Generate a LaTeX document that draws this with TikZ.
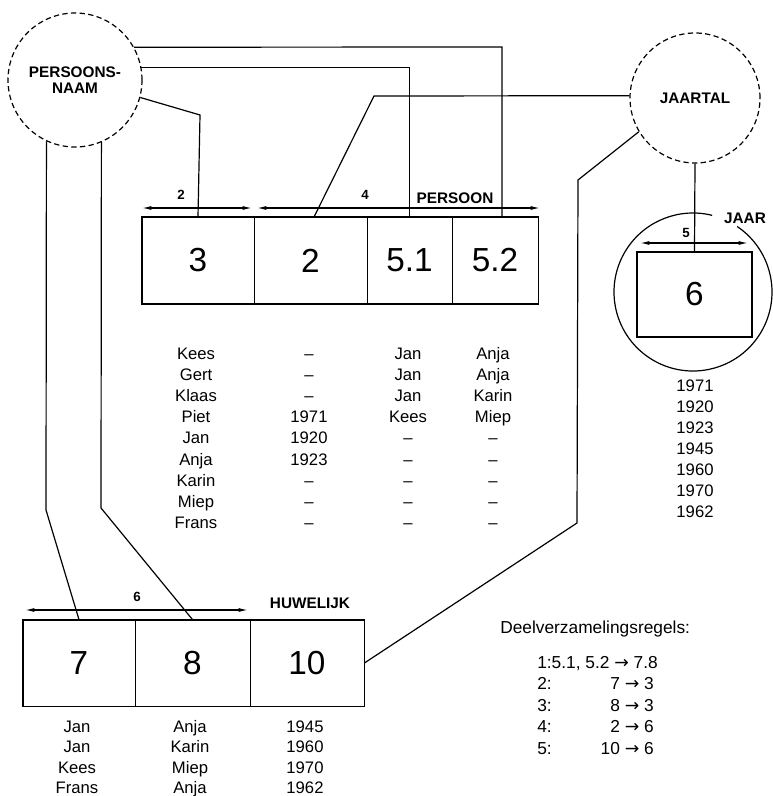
\documentclass[tikz,border=0pt]{standalone}
\usepackage{fontspec}
\setmainfont{Liberation Sans}
\newfontfamily\arrowfont{DejaVu Sans}
\newcommand{\rarr}{{\arrowfont →}}
\usetikzlibrary{arrows.meta}
\begin{document}
\begin{tikzpicture}[x=0.75pt,y=-0.75pt,
  conn/.style={line width=0.9pt},
  ent/.style={circle, draw, line width=0.9pt, dash pattern=on 4pt off 2.5pt, minimum size=#1, inner sep=0pt, font=\bfseries\fontsize{11.5}{13}\selectfont, align=center},
  cell/.style={draw, line width=0.6pt, minimum width=#1, minimum height=65pt, inner sep=0pt, font=\fontsize{25}{25}\selectfont},
  outer/.style={line width=1.2pt},
  dim/.style={line width=0.9pt, {Latex[length=7pt,width=3pt]}-{Latex[length=7pt,width=3pt]}},
  dlab/.style={font=\bfseries\fontsize{10}{12}\selectfont},
  lab/.style={font=\bfseries\fontsize{11.5}{13}\selectfont},
  val/.style={font=\fontsize{12.5}{14}\selectfont, inner sep=0pt, text height=9pt, text depth=0pt},
  rule/.style={font=\fontsize{13}{15}\selectfont, inner sep=0pt, text height=9.5pt, text depth=0pt},
]
\useasboundingbox (0,0) rectangle (773,796);
\clip (0,0) rectangle (773,796);

% entity circles
\node[ent=100.5pt] (pn) at (75,80) {PERSOONS-\\[-1pt]NAAM};
\node[ent=97.5pt] (jt) at (695,98) {JAARTAL};

% PERSOON relation
\node[cell=84pt] (c3) at (198,260.5) {3};
\node[cell=84.75pt] (c2) at (310.5,260.5) {2};
\node[cell=63.75pt] (c51) at (409.5,260.5) {5.1};
\node[cell=64.5pt] (c52) at (495,260.5) {5.2};
\draw[outer] (c3.north west) rectangle (c52.south east);
\draw[outer] (c3.north east) -- (c3.south east);
\draw[outer] (c51.north east) -- (c51.south east);

\draw[dim] (142,208) -- (252,208);
\draw[dim] (257,208) -- (540,208);
\node[dlab] (d2) at (181,195) {2};
\node[dlab] (d4) at (365,195) {4};
\node[lab] (lp) at (455,198) {PERSOON};

% HUWELIJK relation
\node[cell=84pt, minimum height=64.5pt] (c7) at (79,663) {7};
\node[cell=86.25pt, minimum height=64.5pt] (c8) at (192.5,663) {8};
\node[cell=85.5pt, minimum height=64.5pt] (c10) at (307,663) {10};
\draw[outer] (c7.north west) rectangle (c10.south east);
\draw[dim] (25,610) -- (248,610);
\node[dlab] (d6) at (137,597) {6};
\node[lab] (lh) at (310,603) {HUWELIJK};

% JAAR relation
\draw[line width=0.9pt] (693,292) ++(-56:79) arc[start angle=-56, end angle=284, radius=79];
\node[cell=86.25pt, minimum height=63.75pt, outer] (b6) at (694.5,294.5) {6};
\draw[dim] (640,243) -- (748,243);
\node[dlab] (d5) at (686,233) {5};
\node[lab] (lj) at (745,218) {JAAR};

% connectors from PERSOONSNAAM
\coordinate (t52) at (502,217);
\draw[conn] (pn.29.5) -- (502,47) -- (t52);
\draw[conn] (pn.11) -| (c51.north);
\draw[conn] (pn.-15) -- (200,115) -- (c3.north);
\draw[conn] (pn.-115.6) -- (46,510) -- (c7.north);
\draw[conn] (pn.-67) -- (101,508) -- (c8.north);

% connectors from JAARTAL
\coordinate (t2) at (314,217);
\draw[conn] (jt.178) -- (374,96) -- (t2);
\draw[conn] (jt.211.6) -- (578,180) -- (577,523) -- (c10.east);
\draw[conn] (jt.south) -- (b6.north);

% PERSOON values
\foreach \a/\b/\c/\d [count=\i from 0] in {Kees/--/Jan/Anja, Gert/--/Jan/Anja, Klaas/--/Jan/Karin, Piet/1971/Kees/Miep, Jan/1920/--/--, Anja/1923/--/--, Karin/--/--/--, Miep/--/--/--, Frans/--/--/--}{
  \node[val] (pa\i) at (196,353+21.2*\i) {\a};
  \node[val] (pb\i) at (309,353+21.2*\i) {\b};
  \node[val] (pc\i) at (408,353+21.2*\i) {\c};
  \node[val] (pd\i) at (493,353+21.2*\i) {\d};
}

% JAAR values
\foreach \y [count=\i from 0] in {1971,1920,1923,1945,1960,1970,1962}{
  \node[val] (jy\i) at (695,385+21.1*\i) {\y};
}

% HUWELIJK values
\foreach \a/\b/\c [count=\i from 0] in {Jan/Anja/1945, Jan/Karin/1960, Kees/Miep/1970, Frans/Anja/1962}{
  \node[val] (ha\i) at (77,726+20.5*\i) {\a};
  \node[val] (hb\i) at (190,726+20.5*\i) {\b};
  \node[val] (hc\i) at (305,726+20.5*\i) {\c};
}

% rules
\node[rule, anchor=west] (r0) at (500,627) {Deelverzamelingsregels:};
\node[rule, anchor=west] (r1) at (537,662) {1:5.1, 5.2 \rarr\ 7.8};
\node[rule, anchor=west] (r2) at (537,683.5) {2:};
\node[rule, anchor=east] (r2b) at (654,683.5) {7 \rarr\ 3};
\node[rule, anchor=west] (r3) at (537,705) {3:};
\node[rule, anchor=east] (r3b) at (654,705) {8 \rarr\ 3};
\node[rule, anchor=west] (r4) at (537,726.5) {4:};
\node[rule, anchor=east] (r4b) at (654,726.5) {2 \rarr\ 6};
\node[rule, anchor=west] (r5) at (537,748) {5:};
\node[rule, anchor=east] (r5b) at (654,748) {10 \rarr\ 6};
\end{tikzpicture}
\end{document}
